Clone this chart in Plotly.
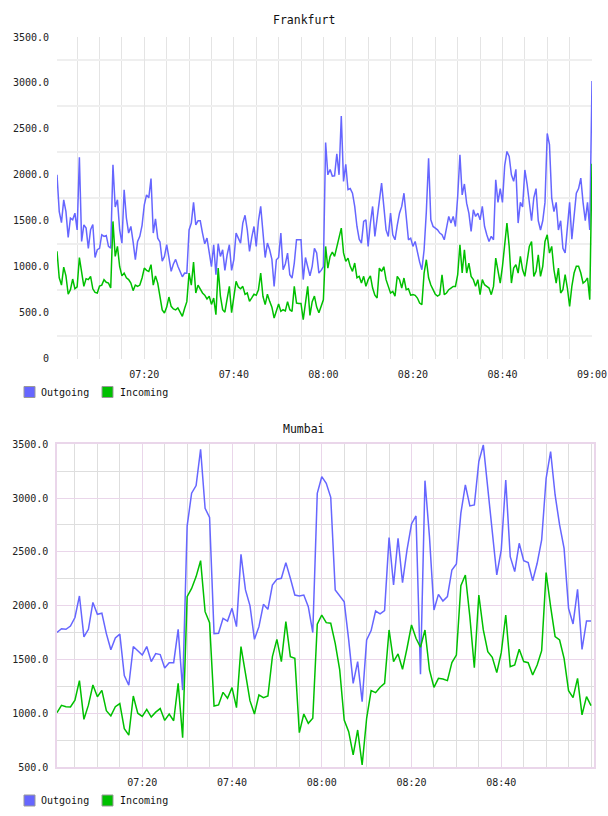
import plotly.graph_objects as go
import pandas as pd

FONT = "DejaVu Sans Mono"
W, H = 608, 816

# ---------------- Data ----------------
fra_start = "2024-01-01 07:00:30"
fra_out = [
    2000, 1600, 1480, 1728, 1600, 1320, 1529, 1511, 1583, 1400,
    2190, 1275, 1456, 1420, 1200, 1402, 1460, 1100, 1185, 1200,
    1348, 1330, 1340, 1221, 1203, 2110, 1650, 1728, 1400, 1257,
    1837, 1530, 1366, 1438, 1270, 1076, 1275, 1330, 1450, 1674,
    1782, 1750, 1960, 1366, 1520, 1311, 1270, 1060, 1112, 1239,
    1100, 949, 1030, 1080, 1004, 940, 890, 931, 930, 1400,
    1475, 1700, 1456, 1500, 1500, 1366, 1250, 1311, 1148, 1000,
    1239, 913, 1250, 1112, 1185, 960, 1130, 1239, 960, 1076,
    1366, 1300, 1257, 1475, 1560, 1402, 1167, 1320, 1438, 1221,
    1500, 1656, 1402, 1100, 1257, 1185, 1080, 786, 1076, 1100,
    1366, 967, 1030, 1148, 913, 877, 1040, 1293, 1293, 1293,
    860, 1100, 1000, 900, 1004, 1200, 1150, 931, 960, 1000,
    2351, 2000, 2058, 1986, 1990, 2229, 2000, 2641, 1929, 2114,
    1838, 1850, 1800, 1656, 1438, 1300, 1257, 1493, 1511, 1221,
    1475, 1656, 1330, 1529, 1746, 1909, 1656, 1400, 1330, 1583,
    1348, 1293, 1450, 1583, 1656, 1800, 1547, 1293, 1311, 1221,
    1275, 1148, 1050, 967, 1185, 1601, 2180, 1511, 1438, 1420,
    1402, 1366, 1348, 1293, 1402, 1547, 1475, 1547, 1438, 1764,
    2217, 1782, 1900, 1692, 1583, 1384, 1620, 1547, 1583, 1511,
    1656, 1438, 1348, 1275, 1330, 1293, 1946, 1700, 1850, 1700,
    2100, 2254, 2200, 2000, 1929, 2060, 1475, 1700, 1650, 2053,
    1900, 1700, 1500, 1750, 1850, 1500, 1400, 1500, 1700, 2450,
    2330, 1750, 1600, 1700, 1400, 1500, 1200, 1150, 1400, 1700,
    1300, 1600, 1800, 1850, 1964, 1700, 1500, 1700, 1400, 3021,
]
fra_in = [
    1167, 880, 800, 996, 900, 700, 750, 866, 760, 780,
    1100, 931, 786, 870, 860, 895, 760, 720, 714, 790,
    800, 859, 830, 822, 768, 1493, 1112, 1221, 1000, 900,
    931, 880, 860, 822, 740, 800, 786, 800, 877, 985,
    960, 949, 1022, 800, 900, 822, 680, 530, 496, 560,
    670, 569, 540, 530, 551, 505, 460, 545, 620, 931,
    800, 1050, 714, 800, 750, 714, 690, 650, 678, 590,
    659, 478, 985, 680, 532, 505, 650, 786, 500, 650,
    841, 780, 760, 786, 700, 714, 623, 660, 700, 690,
    750, 931, 678, 587, 700, 623, 560, 442, 514, 595,
    514, 532, 520, 620, 532, 514, 786, 605, 600, 600,
    424, 640, 786, 470, 620, 680, 560, 500, 560, 640,
    1221, 985, 1112, 1160, 1112, 1221, 1300, 1420, 1150, 1058,
    1094, 1004, 949, 1040, 880, 895, 822, 895, 786, 859,
    900, 768, 690, 659, 985, 949, 1000, 859, 786, 714,
    732, 680, 895, 859, 768, 877, 750, 760, 690, 696,
    688, 659, 605, 587, 931, 1076, 880, 800, 750, 700,
    680, 696, 913, 696, 714, 750, 768, 786, 786, 913,
    1239, 931, 1185, 931, 1040, 895, 859, 786, 859, 696,
    859, 804, 786, 768, 696, 786, 1094, 967, 822, 1004,
    1257, 1475, 1221, 822, 985, 1022, 931, 1112, 967, 895,
    1058, 1221, 1275, 895, 949, 1130, 895, 1004, 1275, 1348,
    1148, 1221, 967, 822, 985, 714, 750, 913, 768, 569,
    786, 931, 1004, 1004, 931, 822, 841, 877, 641, 2120,
]

mum_start = "2024-01-01 07:01:00"
mum_out = [
    1750, 1785, 1780, 1810, 1890, 2090, 1710, 1780, 2030, 1920,
    1930, 1740, 1590, 1700, 1735, 1350, 1260, 1620, 1580, 1540,
    1620, 1480, 1555, 1545, 1420, 1470, 1470, 1780, 1215, 2740,
    3045, 3116, 3454, 2905, 2821, 1740, 1743, 1882, 1857, 1975,
    1805, 2477, 2146, 2000, 1687, 1805, 2012, 1966, 2192, 2245,
    2254, 2400, 2254, 2099, 2090, 2099, 1991, 1750, 3045, 3199,
    3137, 3007, 2146, 2090, 2037, 1681, 1278, 1480, 1108, 1681,
    1768, 1950, 1923, 1954, 2632, 2192, 2626, 2214, 2518, 2759,
    2834, 1362, 3162, 2642, 1960, 2105, 2043, 2084, 2332, 2387,
    2860, 3122, 2927, 2936, 3339, 3494, 3075, 2657, 2285, 2518,
    3168, 2456, 2316, 2580, 2418, 2400, 2232, 2394, 2611, 3184,
    3432, 3029, 2750, 2533, 1975, 1830, 2152, 1594, 1858, 1858,
]
mum_in = [
    1005, 1073, 1060, 1058, 1122, 1303, 943, 1075, 1262, 1153,
    1212, 1024, 975, 1060, 1090, 857, 796, 1160, 1000, 970,
    1036, 964, 1010, 1043, 933, 992, 930, 1277, 773, 2084,
    2160, 2270, 2418, 1944, 1842, 1067, 1077, 1194, 1139, 1238,
    1052, 1619, 1371, 1117, 993, 1170, 1145, 1160, 1526, 1687,
    1480, 1851, 1526, 1510, 819, 993, 906, 953, 1827, 1913,
    1842, 1836, 1650, 1402, 937, 829, 612, 844, 519, 953,
    1210, 1191, 1241, 1278, 1774, 1480, 1551, 1408, 1604, 1820,
    1697, 1613, 1774, 1402, 1241, 1324, 1318, 1303, 1470, 1541,
    2185, 2285, 1898, 1424, 2099, 1774, 1572, 1520, 1377, 1563,
    1913, 1433, 1448, 1594, 1480, 1470, 1355, 1448, 1582, 2307,
    1991, 1712, 1681, 1510, 1210, 1145, 1324, 984, 1154, 1070,
]

series_names = ["Outgoing", "Incoming"]
series_colors = ["#6666ff", "#00c000"]

fra_yticks = [0, 500, 1000, 1500, 2000, 2500, 3000, 3500]
fra_yticktext = ["0", "500.0", "1000.0", "1500.0", "2000.0", "2500.0", "3000.0", "3500.0"]
mum_yticks = [500, 1000, 1500, 2000, 2500, 3000, 3500]
mum_yticktext = ["500.0", "1000.0", "1500.0", "2000.0", "2500.0", "3000.0", "3500.0"]
fra_xticks = ["07:20", "07:40", "08:00", "08:20", "08:40", "09:00"]
mum_xticks = ["07:20", "07:40", "08:00", "08:20", "08:40"]

DAY = "2024-01-01 "
fra_t = pd.date_range(fra_start, periods=len(fra_out), freq="30s")
mum_t = pd.date_range(mum_start, periods=len(mum_out), freq="60s")

# ---------------- Figure ----------------
def px_x(p):
    return p / W

def px_y(p):
    return 1 - p / H

fig = go.Figure()
for vals, name, col in zip([fra_out, fra_in], series_names, series_colors):
    fig.add_trace(go.Scatter(x=fra_t, y=vals, mode="lines", name=name,
                             line=dict(color=col, width=1.5), showlegend=False,
                             xaxis="x", yaxis="y"))
for vals, name, col in zip([mum_out, mum_in], series_names, series_colors):
    fig.add_trace(go.Scatter(x=mum_t, y=vals, mode="lines", name=name,
                             line=dict(color=col, width=1.5), showlegend=False,
                             xaxis="x2", yaxis="y2"))

grid_top = "#e4e4e4"
grid_top_h = "#efefef"
pink = "#ead6ea"
grey = "#dedede"
tickfont = dict(family=FONT, size=10, color="#222222")

fig.update_layout(
    width=W, height=H,
    margin=dict(l=0, r=0, t=0, b=0, autoexpand=False),
    paper_bgcolor="white", plot_bgcolor="white",
    showlegend=False,
    font=dict(family=FONT, size=10, color="#222222"),
    xaxis=dict(
        domain=[px_x(57), px_x(592)],
        range=[fra_start, DAY + "09:00:00"],
        type="date", automargin=False,
        tickvals=[DAY + t for t in fra_xticks], ticktext=fra_xticks,
        tickfont=tickfont,
        showgrid=True, gridcolor=grid_top, gridwidth=1,
        minor=dict(dtick=300000, tick0=DAY + "07:00:00", showgrid=True,
                   gridcolor=grid_top, gridwidth=1, ticks=""),
        ticks="outside", ticklen=6, tickcolor="rgba(0,0,0,0)",
        showline=False, zeroline=False, anchor="y", fixedrange=True,
    ),
    yaxis=dict(
        domain=[px_y(358.6), px_y(37)],
        range=[0, 3500], automargin=False,
        tickvals=fra_yticks, ticktext=fra_yticktext, tickfont=tickfont,
        showgrid=False,
        minor=dict(tickvals=[250, 750, 1250, 1750, 2250, 2750, 3250],
                   showgrid=True, gridcolor=grid_top_h, gridwidth=2, ticks=""),
        ticks="outside", ticklen=5, tickcolor="rgba(0,0,0,0)",
        showline=False, zeroline=False, anchor="x", fixedrange=True,
    ),
    xaxis2=dict(
        domain=[px_x(57), px_x(594)],
        range=[mum_start, DAY + "09:00:40"],
        type="date", automargin=False,
        tickvals=[DAY + t for t in mum_xticks], ticktext=mum_xticks,
        tickfont=tickfont,
        showgrid=True, gridcolor=pink, gridwidth=1,
        minor=dict(dtick=300000, tick0=DAY + "07:00:00", showgrid=True,
                   gridcolor=grey, gridwidth=1, ticks=""),
        ticks="outside", ticklen=5, tickcolor="rgba(0,0,0,0)",
        showline=True, linecolor=pink, linewidth=1.5, mirror=True,
        zeroline=False, anchor="y2", fixedrange=True,
    ),
    yaxis2=dict(
        domain=[px_y(767), px_y(444.3)],
        range=[500, 3500], automargin=False,
        tickvals=mum_yticks, ticktext=mum_yticktext, tickfont=tickfont,
        showgrid=True, gridcolor=pink, gridwidth=1,
        minor=dict(tickvals=[750, 1250, 1750, 2250, 2750, 3250],
                   showgrid=True, gridcolor=grey, gridwidth=1, ticks=""),
        ticks="outside", ticklen=5, tickcolor="rgba(0,0,0,0)",
        showline=True, linecolor=pink, linewidth=1.5, mirror=True,
        zeroline=False, anchor="x2", fixedrange=True,
    ),
)

# Titles
titles = [("Frankfurt", 20), ("Mumbai", 429)]
annotations = []
for text, yc in titles:
    annotations.append(dict(text=text, x=px_x(304), y=px_y(yc), xref="paper", yref="paper",
                            xanchor="center", yanchor="middle", showarrow=False,
                            font=dict(family=FONT, size=11.5, color="#111111")))

# Legends (drawn as boxes + text under each chart)
shapes = []
legend_rows = [392, 800.5]
box_x = [24, 102]
text_x = [39, 118]
for ly in legend_rows:
    for name, col, bx, tx in zip(series_names, series_colors, box_x, text_x):
        shapes.append(dict(type="rect", xref="paper", yref="paper",
                           x0=px_x(bx), x1=px_x(bx + 11), y0=px_y(ly + 5.5), y1=px_y(ly - 5.5),
                           fillcolor=col, line=dict(color="#999999", width=1)))
        annotations.append(dict(text=name, x=px_x(tx), y=px_y(ly), xref="paper", yref="paper",
                                xanchor="left", yanchor="middle", showarrow=False,
                                font=dict(family=FONT, size=10, color="#111111")))

fig.update_layout(annotations=annotations, shapes=shapes)
fig.write_html("out.html")
